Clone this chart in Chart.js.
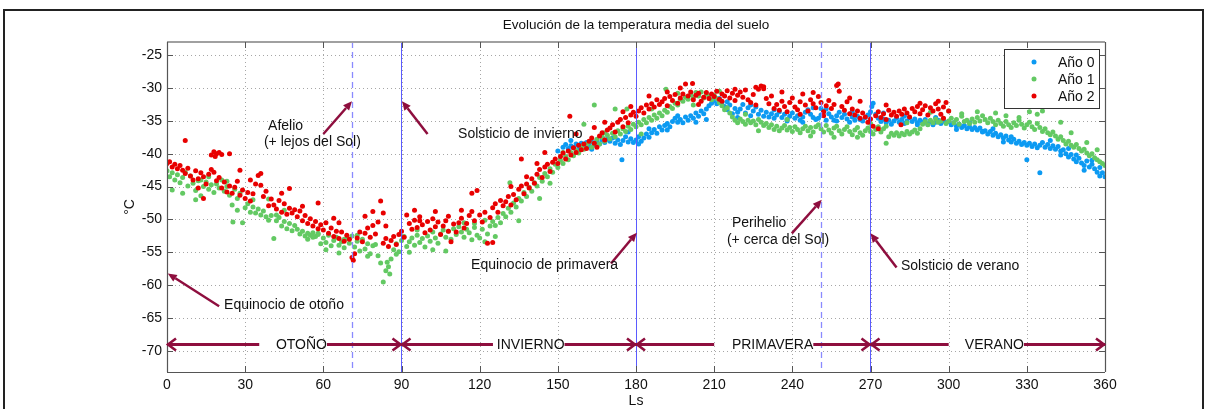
<!DOCTYPE html>
<html>
<head>
<meta charset="utf-8">
<script src="https://cdn.jsdelivr.net/npm/chart.js@4.4.1/dist/chart.umd.min.js"></script>
<style>
html,body{margin:0;padding:0;background:#fff;}
#wrap{width:1207px;height:409px;position:relative;}
</style>
</head>
<body>
<div id="wrap"><canvas id="c" width="1207" height="409"></canvas></div>
<script>
// ---------- DATA ----------
const xTicks = [0,30,60,90,120,150,180,210,240,270,300,330,360];
const yTicks = [-25,-30,-35,-40,-45,-50,-55,-60,-65,-70];
const seriesNames = ['Año 0','Año 1','Año 2'];

// Año 0 : one value per degree of Ls, starting at Ls 152
const year0Start = 152;
const year0 = [
-39.0,-38.6,-39.2,-38.8,-39.1,-38.5,-38.9,-38.4,
-38.7,-38.3,-38.8,-38.2,-38.6,-38.0,-38.5,-37.9,-38.3,-37.8,
-38.1,-37.6,-38.4,-37.9,-38.6,-38.0,-37.4,-38.2,-37.7,-38.3,
-37.9,-37.4,-38.1,-37.6,-37.0,-37.5,-36.8,-36.3,-36.9,-35.9,
-36.4,-35.7,-35.4,-35.9,-35.1,-34.6,-35.2,-34.8,-35.3,-34.4,
-34.9,-34.2,-34.6,-33.8,-34.3,-33.5,-33.9,-33.2,-32.7,-32.3,
-31.9,-32.4,-31.6,-32.2,-32.8,-33.3,-32.6,-33.9,-33.1,-33.7,
-33.2,-32.5,-33.8,-33.0,-34.2,-33.5,-32.9,-34.0,-33.4,-34.3,
-33.7,-34.4,-33.9,-34.6,-34.1,-33.6,-34.5,-34.0,-34.8,-34.3,
-33.8,-34.6,-34.2,-34.9,-34.4,-33.7,-33.3,-34.0,-34.5,-34.8,
-34.6,-34.1,-33.6,-33.2,-33.9,-34.4,-34.9,-34.2,-33.7,-34.5,
-34.0,-34.7,-35.2,-34.4,-34.9,-34.3,-34.8,-35.0,-34.5,-34.1,
-33.6,-32.3,-34.0,-34.6,-35.1,-34.7,-35.3,-34.9,-35.5,-35.0,
-34.6,-35.2,-34.8,-35.4,-35.0,-34.5,-35.1,-34.7,-35.3,-34.9,
-35.2,-34.8,-35.5,-35.1,-35.6,-35.2,-34.9,-35.4,-35.0,-35.3,
-35.1,-35.6,-35.3,-35.8,-35.5,-36.0,-35.7,-36.2,-35.9,-36.3,
-36.0,-36.4,-36.1,-36.7,-36.5,-37.0,-36.6,-37.2,-36.9,-37.4,
-37.1,-37.6,-37.3,-37.9,-38.2,-37.8,-38.4,-38.1,-38.6,-38.3,
-38.7,-38.4,-38.9,-38.5,-39.1,-38.7,-38.3,-39.0,-38.6,-39.2,
-38.8,-39.3,-38.9,-39.6,-39.4,-40.0,-40.5,-40.1,-40.8,-41.2,
-40.7,-41.4,-41.8,-41.1,-42.0,-41.6,-42.3,-42.8,-42.1,-42.9,
-43.5];
// extra Año 0 readings [Ls, °C]
const year0Extra = [[150,-39.6],[155,-38.0],[158,-39.5],[163,-39.3],[167,-37.5],[174.6,-40.9],[177,-36.7],[181,-38.5],[185,-36.2],[192,-36.4],[196,-34.2],[203,-35.2],[207,-34.8],[215,-32.1],[219,-34.5],[224,-32.6],[233,-33.3],[238,-35.0],[244,-35.2],[248,-33.0],[251,-33.1],[253,-34.9],[257,-35.0],[263,-33.6],[270.5,-32.8],[275,-33.8],[283,-34.3],[288,-35.6],[295,-34.5],[303,-36.3],[308,-35.3],[313,-36.6],[317,-36.2],[321,-38.2],[324,-37.4],[330,-40.9],[335,-42.9],[339,-38.0],[343,-40.2],[346,-39.2],[349,-40.2],[352,-42.5],[355,-41.0],[358,-43.4]];

// Año 1 : one value per degree of Ls, starting at Ls 0
const year1Start = 0;
const year1 = [
-42.6,-43.5,-42.9,-44.0,-43.2,-44.4,-43.6,-42.8,-44.9,-43.4,
-44.5,-45.6,-44.1,-46.4,-45.0,-44.3,-45.4,-44.7,-45.9,-44.6,
-45.2,-44.0,-45.7,-45.0,-46.3,-47.8,-45.4,-48.6,-46.0,-50.5,
-48.2,-47.6,-48.9,-48.1,-49.0,-48.4,-49.3,-48.7,-49.6,-50.1,
-49.4,-52.9,-50.2,-49.7,-51.0,-50.3,-51.4,-50.6,-51.7,-50.9,
-51.5,-52.2,-51.8,-52.5,-52.1,-52.4,-52.0,-52.6,-52.3,-53.7,
-52.8,-53.5,-52.4,-54.0,-53.2,-52.7,-53.9,-53.4,-54.3,-52.9,
-53.6,-52.5,-54.2,-53.3,-54.8,-53.0,-54.5,-53.7,-55.2,-54.0,
-53.8,-55.5,-56.6,-59.5,-57.8,-57.2,-56.0,-54.6,-53.7,-54.9,
-53.2,-52.6,-54.1,-53.4,-52.8,-53.9,-52.4,-53.5,-52.9,-54.2,
-52.5,-53.3,-51.9,-52.8,-53.6,-52.2,-51.6,-52.7,-51.8,-53.0,
-51.4,-52.3,-51.1,-51.9,-52.7,-51.5,-52.0,-53.1,-51.2,-52.4,
-52.8,-51.5,-53.4,-52.2,-51.0,-50.3,-50.9,-49.7,-50.5,-49.1,
-49.6,-48.3,-48.9,-47.5,-48.1,-46.8,-47.2,-45.9,-46.5,-45.1,
-45.7,-44.4,-44.9,-43.6,-44.2,-43.0,-43.5,-42.3,-42.8,-41.6,
-42.1,-41.0,-41.5,-40.4,-40.9,-39.8,-40.3,-39.5,-39.9,-38.9,
-39.3,-38.6,-38.2,-39.0,-38.4,-37.8,-38.5,-37.5,-38.1,-37.2,
-37.7,-36.9,-37.4,-36.5,-37.0,-36.2,-36.6,-35.8,-36.3,-35.5,
-35.9,-35.2,-35.6,-34.8,-35.3,-34.5,-34.9,-34.1,-34.6,-33.8,
-34.2,-33.4,-33.7,-32.8,-33.1,-32.3,-32.6,-31.7,-32.0,-31.4,
-31.7,-31.0,-31.4,-30.7,-31.2,-30.6,-31.5,-30.9,-31.3,-31.8,
-31.1,-31.6,-32.2,-32.7,-33.3,-33.0,-33.8,-34.4,-34.9,-35.3,
-34.7,-35.1,-35.5,-34.9,-35.3,-35.0,-35.6,-34.8,-35.2,-35.7,
-35.4,-36.0,-35.6,-36.3,-35.8,-36.5,-36.1,-35.7,-36.4,-36.0,
-36.6,-35.9,-36.3,-36.8,-36.2,-35.8,-36.5,-36.0,-36.7,-35.9,
-35.6,-36.2,-36.7,-35.7,-36.4,-36.9,-36.1,-35.8,-36.5,-37.0,
-36.3,-35.9,-36.6,-37.1,-36.4,-36.0,-36.8,-37.2,-36.5,-36.1,
-36.6,-37.0,-36.3,-35.9,-36.7,-36.2,-35.8,-37.4,-36.9,-37.2,
-36.8,-37.3,-36.9,-37.1,-36.6,-37.0,-36.7,-36.4,-36.9,-36.2,
-35.5,-35.1,-35.6,-34.9,-35.3,-34.7,-35.2,-35.0,-34.6,-35.4,
-35.0,-34.6,-35.3,-34.8,-35.5,-34.3,-35.1,-34.9,-35.4,-34.7,
-35.2,-34.5,-35.0,-34.2,-34.8,-35.3,-34.6,-35.1,-35.6,-34.9,
-35.4,-35.8,-35.1,-35.6,-36.0,-35.3,-35.7,-34.9,-35.5,-36.1,
-35.6,-35.2,-35.9,-36.3,-35.4,-36.0,-36.6,-36.2,-36.8,-37.1,
-36.7,-37.3,-37.8,-37.4,-38.0,-38.5,-38.1,-38.7,-39.0,-38.6,
-39.2,-39.6,-39.3,-39.9,-40.3,-40.0,-40.6,-40.9,-41.2,-41.5,
-41.8];
const year1Extra = [[2,-45.5],[6,-46.0],[11,-47.0],[13,-44.0],[16,-43.5],[23,-44.2],[25.3,-50.4],[27,-46.8],[33,-47.0],[39,-46.9],[42,-49.3],[45,-48.6],[54,-53.0],[56,-52.7],[58,-52.1],[61,-54.6],[66,-55.1],[68,-53.0],[73,-52.4],[77,-55.6],[84.5,-56.5],[85.5,-58.3],[88,-55.3],[93,-55.0],[96,-51.6],[102,-54.6],[107,-54.8],[114,-50.5],[118,-50.6],[122,-50.1],[126,-52.6],[131.6,-44.4],[135,-50.2],[143,-46.8],[147,-44.5],[152,-39.8],[160,-35.5],[164,-32.6],[168,-36.8],[172,-33.2],[176.5,-33.2],[182,-37.0],[186,-33.2],[191.5,-30.2],[196,-30.8],[202,-32.6],[212,-30.5],[222,-34.0],[227,-36.5],[238,-34.8],[247,-37.3],[256,-37.5],[265,-37.5],[270,-35.4],[276,-38.4],[284,-35.3],[293,-33.7],[300,-33.5],[305,-33.9],[311,-33.6],[318,-33.8],[322,-34.2],[327,-34.5],[331,-33.6],[332,-32.7],[334,-34.0],[336,-33.5],[343,-35.2],[347,-36.8],[353,-38.3],[357,-39.4]];

// Año 2 : one value per degree of Ls, starting at Ls 0
const year2Start = 0;
const year2 = [
-41.5,-41.2,-42.0,-41.6,-42.3,-41.8,-42.5,-43.0,-42.2,-43.4,
-44.0,-42.6,-43.8,-42.9,-43.5,-44.6,-43.1,-42.4,-42.8,-44.1,
-43.6,-45.2,-44.3,-45.8,-44.9,-46.0,-45.1,-44.2,-46.3,-45.5,
-46.8,-45.9,-47.2,-46.1,-44.6,-43.3,-44.8,-46.5,-45.7,-47.9,
-46.9,-47.8,-48.4,-47.1,-48.9,-47.6,-49.2,-48.3,-49.0,-48.5,
-49.6,-48.7,-50.2,-49.4,-50.6,-49.9,-51.0,-50.3,-51.4,-50.8,
-51.6,-50.5,-52.1,-51.3,-52.6,-51.8,-52.9,-51.9,-53.3,-52.4,
-53.0,-55.8,-55.2,-52.8,-51.9,-53.4,-52.1,-51.3,-52.7,-50.9,
-52.2,-50.4,-47.2,-53.6,-52.9,-54.1,-53.2,-52.6,-53.8,-52.3,
-51.8,-52.7,-49.3,-50.6,-51.5,-50.1,-51.2,-49.6,-50.8,-52.0,
-50.3,-51.6,-49.9,-51.1,-50.4,-52.3,-51.0,-50.2,-51.8,-53.4,
-50.7,-51.9,-50.5,-49.8,-51.3,-50.6,-49.4,-48.8,-50.2,-45.6,
-49.3,-50.4,-48.9,-53.6,-49.7,-48.2,-47.6,-48.9,-47.1,-47.9,
-47.3,-46.5,-47.8,-46.2,-47.0,-45.4,-44.9,-46.1,-44.6,-45.2,
-43.8,-44.5,-43.1,-42.4,-43.6,-42.0,-41.6,-42.7,-41.3,-40.8,
-41.5,-40.4,-39.9,-40.8,-39.6,-40.2,-39.1,-39.8,-38.7,-39.4,
-38.5,-39.2,-38.1,-37.6,-38.4,-39.0,-37.3,-36.8,-37.9,-36.4,
-36.1,-35.6,-36.7,-35.2,-34.8,-35.9,-34.5,-35.3,-34.1,-33.7,
-34.3,-33.5,-33.0,-33.8,-32.6,-33.2,-32.4,-32.9,-31.8,-32.5,
-32.1,-31.6,-32.7,-31.3,-31.9,-31.0,-32.3,-31.5,-30.9,-29.4,
-31.2,-30.6,-31.8,-31.1,-30.8,-32.0,-31.4,-30.7,-31.6,-30.9,
-31.3,-30.5,-31.7,-30.9,-31.2,-30.4,-31.5,-30.8,-31.9,-31.1,
-30.6,-31.4,-30.3,-31.8,-32.2,-31.0,-32.6,-30.2,-29.7,-30.1,
-31.6,-32.4,-31.2,-33.1,-32.5,-33.4,-32.0,-32.8,-33.6,-32.2,
-31.5,-32.9,-33.3,-32.1,-30.9,-32.6,-33.5,-31.8,-32.4,-33.0,
-31.3,-32.2,-33.6,-32.7,-31.9,-33.1,-32.5,-29.6,-30.5,-32.8,
-33.4,-32.1,-33.9,-33.2,-34.1,-33.5,-34.6,-33.8,-34.4,-35.2,
-34.7,-35.8,-34.2,-33.6,-34.5,-33.9,-34.8,-33.4,-34.1,-33.7,
-34.3,-33.5,-34.0,-33.2,-33.8,-34.4,-33.1,-33.6,-32.8,-33.9,
-33.3,-32.7,-34.1,-33.0,-33.5,-32.4,-33.2,-34.0,-32.9,-32.2,
-33.5];
const year2Extra = [[7,-38.0],[17,-40.2],[18,-39.7],[19,-40.0],[20,-39.8],[21,-40.1],[18.5,-40.4],[12,-45.2],[14,-46.8],[24,-40.0],[28,-42.5],[36,-43.0],[32,-44.0],[44,-46.0],[47,-45.3],[52,-48.0],[58,-47.5],[64,-49.8],[66,-50.5],[71.5,-56.2],[76,-49.5],[79,-48.8],[83,-49.0],[84,-51.0],[95,-48.6],[97,-50.2],[103,-48.8],[108,-49.5],[113,-48.6],[117,-46.0],[125,-53.5],[132,-45.0],[136,-40.8],[138,-43.5],[142,-41.5],[145,-39.8],[154.6,-34.3],[157,-37.0],[164,-36.0],[168,-35.2],[175,-33.6],[178,-32.8],[185,-31.2],[192,-30.6],[197,-30.0],[201.7,-29.3],[204,-32.5],[213,-32.0],[218,-30.2],[226,-29.9],[229,-29.8],[236,-30.6],[243,-34.0],[248,-30.7],[252,-34.2],[257.6,-29.4],[262,-31.5],[266,-32.0],[273,-36.2],[281.7,-35.6],[276,-32.6],[289,-32.3],[296,-32.0],[298,-34.6]];

// reference lines (Ls)
const dashedLs = [71, 251];      // afelio, perihelio
const solidLs  = [90, 180, 270]; // solsticios / equinoccios

// seasons: [label, startLs, endLs, lineBreakLs, textLs]
const seasons = [
  ['OTOÑO', 0, 90, 35.4, 41.8],
  ['INVIERNO', 90, 180, 125.1, 126.6],
  ['PRIMAVERA', 180, 270, 210, 216.8],
  ['VERANO', 270, 360, 300, 306.2]
];
const seasonY = -69;

// text arrows: [tailLs, tailT, headLs, headT]
const textArrows = [
  [60, -37, 71, -32],
  [100, -37, 90.2, -32],
  [20, -63.2, 0.3, -58.2],
  [170.4, -56.7, 180.3, -52],
  [239.8, -52.1, 251.3, -47],
  [280, -57.3, 270, -52.1]
];
// labels: [text, leftLs, T]
const textLabels = [
  ['Afelio', 38.8, -35.8],
  ['(+ lejos del Sol)', 37.2, -38.2],
  ['Solsticio de invierno', 111.7, -37.0],
  ['Equinocio de otoño', 21.9, -63.0],
  ['Equinocio de primavera', 116.7, -57.0],
  ['Perihelio', 216.8, -50.6],
  ['(+ cerca del Sol)', 214.9, -53.2],
  ['Solsticio de verano', 281.7, -57.1]
];

// ---------- BUILD ----------
const colors = ['#0c9af2', '#63c963', '#e80000'];
function build(start, vals, extra){
  const pts = vals.map((v,i)=>({x:start+i, y:v}));
  extra.forEach(p=>pts.push({x:p[0], y:p[1]}));
  return pts;
}
const FONT = '"Liberation Sans", Arial, Helvetica, sans-serif';
const ARROW = '#8e0e3e';

function line(ctx,x1,y1,x2,y2){ctx.beginPath();ctx.moveTo(x1,y1);ctx.lineTo(x2,y2);ctx.stroke();}

const deco = {
  id:'deco',
  beforeDatasetsDraw(chart){
    const {ctx, chartArea:a, scales:{x,y}} = chart;
    ctx.save();
    ctx.strokeStyle='#a6a6a6'; ctx.lineWidth=1; ctx.setLineDash([1,3]);
    xTicks.forEach(v=>{ if(v<=0||v>=360) return; const px=Math.round(x.getPixelForValue(v))+0.5; line(ctx,px,a.top,px,a.bottom);});
    yTicks.forEach(v=>{ const py=Math.round(y.getPixelForValue(v))+0.5; line(ctx,a.left,py,a.right,py);});
    ctx.restore();
  },
  afterDatasetsDraw(chart){
    const {ctx, chartArea:a, scales:{x,y}} = chart;
    ctx.save();
    // reference vertical lines
    ctx.lineWidth=1.3;
    ctx.strokeStyle='#8a8aff'; ctx.setLineDash([6,4]);
    dashedLs.forEach(v=>{const px=Math.round(x.getPixelForValue(v))+0.5; line(ctx,px,a.top,px,a.bottom);});
    ctx.setLineDash([]); ctx.lineWidth=1; ctx.strokeStyle='#5b5bff';
    solidLs.forEach(v=>{const px=Math.floor(x.getPixelForValue(v))+0.5; line(ctx,px,a.top,px,a.bottom);});

    // axes box
    ctx.strokeStyle='#a0a0a0'; ctx.lineWidth=2;
    line(ctx,a.left,a.top,a.right,a.top);
    ctx.strokeStyle='#555'; ctx.lineWidth=1.2;
    line(ctx,a.left+0.5,a.top,a.left+0.5,a.bottom);
    line(ctx,a.left,a.bottom+0.5,a.right,a.bottom+0.5);
    line(ctx,a.right+0.5,a.top,a.right+0.5,a.bottom);
    // tick marks inside
    ctx.lineWidth=1;
    xTicks.forEach(v=>{const px=Math.round(x.getPixelForValue(v))+0.5; line(ctx,px,a.bottom,px,a.bottom-6); line(ctx,px,a.top,px,a.top+6);});
    yTicks.forEach(v=>{const py=Math.round(y.getPixelForValue(v))+0.5; line(ctx,a.left,py,a.left+6,py); line(ctx,a.right,py,a.right-6,py);});

    // season arrows
    ctx.font='14px '+FONT; ctx.textBaseline='middle'; ctx.textAlign='left';
    ctx.strokeStyle=ARROW; ctx.lineWidth=3; ctx.lineCap='butt';
    const sy = Math.round(y.getPixelForValue(seasonY))+0.5;
    seasons.forEach(s=>{
      const x0=x.getPixelForValue(s[1]), x1=x.getPixelForValue(s[2]);
      const gb=x.getPixelForValue(s[3]), tx=x.getPixelForValue(s[4]);
      const tw=ctx.measureText(s[0]).width;
      ctx.strokeStyle=ARROW;
      line(ctx,x0,sy,gb,sy);
      line(ctx,tx+tw,sy,x1,sy);
      ctx.lineWidth=2.6;
      ctx.beginPath(); ctx.moveTo(x0+9,sy-6); ctx.lineTo(x0+1,sy); ctx.lineTo(x0+9,sy+6); ctx.stroke();
      ctx.beginPath(); ctx.moveTo(x1-9,sy-6); ctx.lineTo(x1-1,sy); ctx.lineTo(x1-9,sy+6); ctx.stroke();
      ctx.lineWidth=3;
      ctx.fillStyle='#111';
      ctx.fillText(s[0], tx, sy+1);
    });

    // text arrows
    textArrows.forEach(t=>{
      const x1=x.getPixelForValue(t[0]), y1=y.getPixelForValue(t[1]);
      const x2=x.getPixelForValue(t[2]), y2=y.getPixelForValue(t[3]);
      const ang=Math.atan2(y2-y1,x2-x1);
      const L=9, W=4;
      const bx=x2-L*Math.cos(ang), by=y2-L*Math.sin(ang);
      ctx.strokeStyle=ARROW; ctx.lineWidth=2.5;
      line(ctx,x1,y1,bx,by);
      ctx.fillStyle=ARROW;
      ctx.beginPath();
      ctx.moveTo(x2,y2);
      ctx.lineTo(bx+W*Math.sin(ang), by-W*Math.cos(ang));
      ctx.lineTo(bx-W*Math.sin(ang), by+W*Math.cos(ang));
      ctx.closePath(); ctx.fill();
    });
    ctx.fillStyle='#111'; ctx.font='14px '+FONT; ctx.textAlign='left'; ctx.textBaseline='middle';
    textLabels.forEach(t=>{ ctx.fillText(t[0], x.getPixelForValue(t[1]), y.getPixelForValue(t[2])); });

    // legend
    const lx=1004.5, ly=49.5, lw=95, lh=59;
    ctx.fillStyle='#fff'; ctx.fillRect(lx,ly,lw,lh);
    ctx.strokeStyle='#333'; ctx.lineWidth=1; ctx.strokeRect(lx,ly,lw,lh);
    seriesNames.forEach((n,i)=>{
      const cy=62+i*17;
      ctx.fillStyle=colors[i]; ctx.beginPath(); ctx.arc(1034,cy,2.5,0,Math.PI*2); ctx.fill();
      ctx.fillStyle='#111'; ctx.textAlign='left'; ctx.fillText(n,1058,cy+1);
    });

    // title & axis titles
    ctx.fillStyle='#111'; ctx.textAlign='center';
    ctx.font='13.5px '+FONT;
    ctx.fillText('Evolución de la temperatura media del suelo', (a.left+a.right)/2, 25);
    ctx.font='14px '+FONT;
    ctx.fillText('Ls', (a.left+a.right)/2, 401);
    ctx.save(); ctx.translate(130,(a.top+a.bottom)/2); ctx.rotate(-Math.PI/2);
    ctx.fillText('°C',0,0); ctx.restore();

    // figure border
    ctx.strokeStyle='#222'; ctx.lineWidth=2;
    ctx.beginPath(); ctx.moveTo(4,409); ctx.lineTo(4,10); ctx.lineTo(1203,10); ctx.lineTo(1203,409); ctx.stroke();
    ctx.restore();
  }
};

new Chart(document.getElementById('c'), {
  type:'scatter',
  data:{datasets:[
    {label:seriesNames[0], data:build(year0Start,year0,year0Extra), backgroundColor:colors[0], pointRadius:2.5, borderWidth:0, order:2},
    {label:seriesNames[1], data:build(year1Start,year1,year1Extra), backgroundColor:colors[1], pointRadius:2.5, borderWidth:0, order:1},
    {label:seriesNames[2], data:build(year2Start,year2,year2Extra), backgroundColor:colors[2], pointRadius:2.5, borderWidth:0, order:0}
  ]},
  options:{
    responsive:false, devicePixelRatio:1, animation:false,
    layout:{padding:{top:42,right:102,bottom:0,left:0}},
    plugins:{legend:{display:false}, tooltip:{enabled:false}, title:{display:false}},
    scales:{
      x:{type:'linear', min:0, max:360,
         afterBuildTicks(s){ s.ticks = xTicks.map(v=>({value:v})); },
         afterFit(s){ s.height = 37; },
         grid:{display:false, drawTicks:false}, border:{display:false},
         ticks:{padding:5, color:'#111', font:{family:FONT, size:14}, maxRotation:0, autoSkip:false}},
      y:{type:'linear', min:-73.2, max:-23,
         afterBuildTicks(s){ s.ticks = yTicks.map(v=>({value:v})); },
         afterFit(s){ s.width = 167; },
         grid:{display:false, drawTicks:false}, border:{display:false},
         ticks:{padding:5, color:'#111', font:{family:FONT, size:14}, autoSkip:false}}
    }
  },
  plugins:[deco]
});
</script>
</body>
</html>
